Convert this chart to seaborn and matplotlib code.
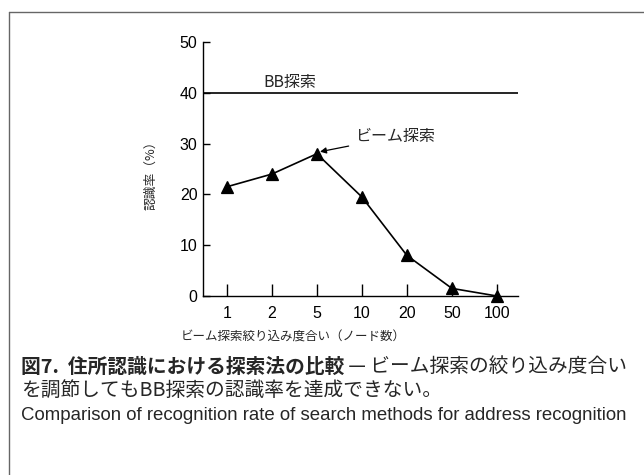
import matplotlib
matplotlib.use("Agg")
import matplotlib.pyplot as plt
import seaborn as sns
import pandas as pd
from matplotlib.lines import Line2D

# ---- data ----
node_counts = ["1", "2", "5", "10", "20", "50", "100"]
beam_rate = [21.5, 24.0, 28.0, 19.5, 8.0, 1.5, 0.0]
bb_rate = 40.0
y_ticks = [0, 10, 20, 30, 40, 50]

sns.set_theme(style="white")
plt.rcParams["font.family"] = ["Liberation Sans", "Noto Sans CJK JP", "DejaVu Sans"]
JP = ["Noto Sans CJK JP", "DejaVu Sans"]

W, H = 644, 475
fig = plt.figure(figsize=(W / 100, H / 100), dpi=100)
ax = fig.add_axes([203 / W, 1 - 296 / H, (518 - 203) / W, (296 - 42) / H])

df = pd.DataFrame({"nodes": node_counts, "rate": beam_rate})
sns.pointplot(data=df, x="nodes", y="rate", order=node_counts, color="black",
              markers="^", markersize=9, linewidth=1.2, errorbar=None, ax=ax)
for coll in ax.collections:
    coll.set_clip_on(False)
for ln in ax.lines:
    ln.set_clip_on(False)

ax.axhline(bb_rate, color="black", linewidth=1.2)

ax.set_xlim(-0.53, 6.47)
ax.set_ylim(0, 50)
ax.set_yticks(y_ticks)
ax.set_yticklabels([str(t) for t in y_ticks])
ax.set_xlabel("")
ax.set_ylabel("")

for s in ["top", "right"]:
    ax.spines[s].set_visible(False)
for s in ["left", "bottom"]:
    ax.spines[s].set_color("black")
    ax.spines[s].set_linewidth(1.0)

ax.tick_params(axis="y", direction="in", length=5, width=1.0, pad=4,
               labelsize=11.5, colors="black", left=True)
ax.tick_params(axis="x", direction="in", length=9, width=1.0, pad=7,
               labelsize=11.5, colors="black", bottom=True)

ax.text(1.4, 40.4, "BB探索", family=JP, fontsize=11.5, ha="center", va="bottom")
ax.annotate("ビーム探索", xy=(2.07, 28.4), xytext=(2.84, 31.3),
            family=JP, fontsize=11.5, ha="left", va="center",
            arrowprops=dict(arrowstyle="-|>", color="black", lw=0.9,
                            mutation_scale=9, shrinkA=2, shrinkB=0))

fig.text(151 / W, 1 - 172 / H, "認識率（%）", family=JP, fontsize=9.2,
         rotation=90, ha="center", va="center")
fig.text(293 / W, 1 - 337 / H, "ビーム探索絞り込み度合い（ノード数）", family=JP,
         fontsize=9, ha="center", va="center")

# caption
fig.canvas.draw()
r = fig.canvas.get_renderer()
t1 = fig.text(21 / W, 1 - 367 / H, "図7.  住所認識における探索法の比較", family=JP,
              fontsize=14.2, fontweight="bold", ha="left", va="center")
bb = t1.get_window_extent(renderer=r)
fig.text(bb.x1 / W, 1 - 367 / H, " — ビーム探索の絞り込み度合い", family=JP,
         fontsize=14.2, ha="left", va="center")
fig.text(21 / W, 1 - 390 / H, "を調節してもBB探索の認識率を達成できない。", family=JP,
         fontsize=14.2, ha="left", va="center")
fig.text(21 / W, 1 - 416 / H,
         "Comparison of recognition rate of search methods for address recognition",
         family=["Liberation Sans Narrow", "Liberation Sans"], fontsize=13.4,
         ha="left", va="center")

# frame
fc = "#666666"
fig.add_artist(Line2D([9 / W, 1], [1 - 12 / H] * 2, transform=fig.transFigure,
                      color=fc, lw=1.0))
fig.add_artist(Line2D([9 / W] * 2, [0, 1 - 12 / H], transform=fig.transFigure,
                      color=fc, lw=1.0))

fig.savefig("out.png", dpi=100)
